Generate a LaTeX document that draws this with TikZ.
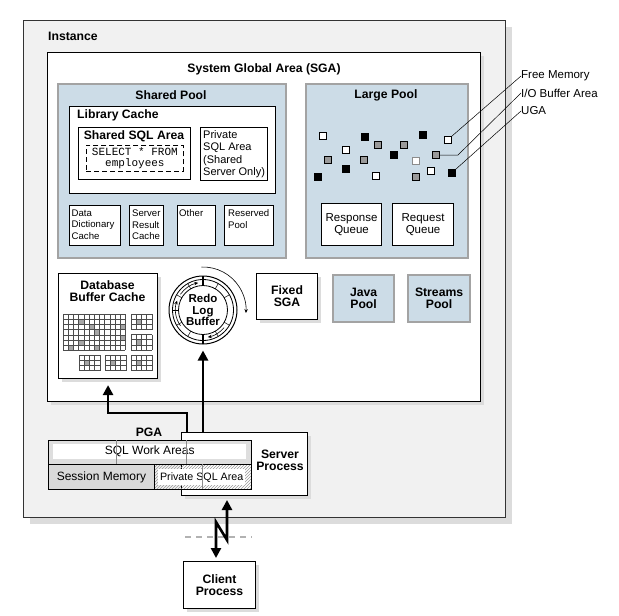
\documentclass[tikz,border=0pt]{standalone}
\usepackage{fontspec}
\setmainfont{Liberation Sans}
\setmonofont{Liberation Mono}
\usepackage{xcolor}
\usepackage{tikz}
\usetikzlibrary{positioning,arrows.meta,shadows,patterns}

\definecolor{instfill}{HTML}{F1F1F1}
\definecolor{poolfill}{HTML}{CCDCE7}
\definecolor{poolrim}{HTML}{A3A3A3}
\definecolor{shade}{HTML}{DCDCDC}

\begin{document}
\begin{tikzpicture}[x=1pt,y=-1pt]
\tikzstyle{area} = [rectangle, draw, line width=1.1pt, fill=white, inner sep=0pt, anchor=north west]
\tikzstyle{shd} = [drop shadow={shadow xshift=3pt, shadow yshift=-3pt, fill=shade, opacity=1}]
\tikzstyle{pool} = [area, draw=poolrim, line width=2.2pt, fill=poolfill]
\tikzstyle{title} = [font=\fontsize{12.2}{12}\selectfont\bfseries, align=center, inner sep=0pt]
\tikzstyle{plain} = [font=\fontsize{11.5}{12.6}\selectfont, align=center, inner sep=0pt]
\tikzstyle{small} = [font=\fontsize{9.6}{11.6}\selectfont, align=left, inner sep=0pt, anchor=north west]
\tikzstyle{arrow} = [line width=2.6pt, ->, >={Triangle[length=10pt,width=10pt]}]
\tikzstyle{ringarrow} = [line width=0.6pt, ->, >={Stealth[length=4pt,width=3.5pt]}]
\tikzstyle{callout} = [line width=0.5pt]
\tikzstyle{chip} = [rectangle, draw, line width=0.5pt, minimum size=7pt, inner sep=0pt]
\tikzstyle{cell} = [line width=0.45pt, black!70]

\useasboundingbox (0,0) rectangle (619,616);

% instance and SGA
\node (inst) [area, fill=instfill, draw=black!80, minimum width=482pt, minimum height=497pt,
  drop shadow={shadow xshift=6pt, shadow yshift=-6pt, fill=shade, opacity=1}] at (23,20) {};
\node (instlbl) [title, anchor=west] at (48,36) {Instance};
\node (sga) [area, shd, minimum width=433pt, minimum height=349pt] at (47,52) {};
\node (sgalbl) [title] at (264,69) {System Global Area (SGA)};

% shared pool
\node (shpool) [pool, minimum width=228pt, minimum height=174pt] at (57,83) {};
\node (shpoollbl) [title] at (171,95) {Shared Pool};
\node (libcache) [area, minimum width=206pt, minimum height=87pt] at (69,106) {};
\node (libcachelbl) [title, anchor=west] at (77,115) {Library Cache};
\node (shsql) [area, minimum width=112pt, minimum height=52pt] at (78,127) {};
\node (shsqllbl) [title] at (134,136) {Shared SQL Area};
\node (stmt) [area, line width=0.8pt, dash pattern=on 5pt off 3pt, minimum width=97pt, minimum height=26pt,
  font=\ttfamily\fontsize{11}{10.5}\selectfont, align=center] at (86,145) {SELECT * FROM\\employees};
\node (privsga) [area, minimum width=67pt, minimum height=53pt] at (200,127) {};
\node (privsgalbl) [small, font=\fontsize{11}{12.6}\selectfont] at (203,130) {Private\\SQL Area\\(Shared\\Server Only)};

\node (ddc) [area, minimum width=51pt, minimum height=40pt] at (69,205) {};
\node (ddclbl) [small] at (71.5,209.5) {Data\\Dictionary\\Cache};
\node (src) [area, minimum width=34pt, minimum height=40pt] at (129,205) {};
\node (srclbl) [small] at (132,209.5) {Server\\Result\\Cache};
\node (oth) [area, minimum width=38pt, minimum height=40pt] at (177,205) {};
\node (othlbl) [small] at (179,209.5) {Other};
\node (resv) [area, minimum width=49pt, minimum height=40pt] at (224,205) {};
\node (resvlbl) [small] at (228,209.5) {Reserved\\Pool};

% large pool
\node (lgpool) [pool, minimum width=162pt, minimum height=174pt] at (305,83) {};
\node (lgpoollbl) [title] at (386,95) {Large Pool};
\node (respq) [area, plain, minimum width=60pt, minimum height=42pt] at (321,203) {Response\\Queue};
\node (reqq) [area, plain, minimum width=61pt, minimum height=42pt] at (392,203) {Request\\Queue};

\foreach \x/\y [count=\i] in {323/136,346/150,376/176,448/140,431/171}
  \node (w\i) [chip, fill=white] at (\x,\y) {};
\node (wg) [chip, draw=black!45, fill=white] at (416,161) {};
\foreach \x/\y [count=\i] in {378/145,328/160,364/160,404/145,436/155,416/177}
  \node (g\i) [chip, fill=black!40] at (\x,\y) {};
\foreach \x/\y [count=\i] in {365/137,394/155,423/135,346/169,318/177,452/173}
  \node (b\i) [chip, fill=black] at (\x,\y) {};

\node (freelbl) [plain, anchor=west] at (521,76) {Free Memory};
\node (iolbl) [plain, anchor=west] at (521,93) {I/O Buffer Area};
\node (ugalbl) [plain, anchor=west] at (521,111) {UGA};
\draw [callout] (freelbl.west) -- (w4.north east);
\draw [callout] (iolbl.west) -- ++(-63,62) -- (g5.east);
\draw [callout] (ugalbl.west) -- (b6.north east);

% buffer cache
\node (bufcache) [area, shd, minimum width=99pt, minimum height=105pt] at (58,273) {};
\node (bufcachelbl) [title] at (107.5,291) {Database\\Buffer Cache};
\foreach \c/\r in {3/1,5/2,6/3,11/4,3/5,1/6,6/6,11/2}
  \fill [black!35] (63+\c*5.2,314+\r*5.2) rectangle ++(5.2,5.2);
\foreach \gx/\gy in {131/314,131/334.5,79/355,105/355,131/355}
  \fill [black!35] (\gx+5.2,\gy+5.2) rectangle ++(5.2,5.2);
\foreach \gx/\gy/\gc/\gr in {63/314/12/7,131/314/4/3,131/334.5/4/3,79/355/4/3,105/355/4/3,131/355/4/3} {
  \foreach \i in {0,...,\gc} \draw [cell] (\gx+\i*5.2,\gy) -- ++(0,\gr*5.2);
  \foreach \j in {0,...,\gr} \draw [cell] (\gx,\gy+\j*5.2) -- ++(\gc*5.2,0);
}

% redo log buffer
\node (redo) [circle, draw, line width=1pt, fill=white, minimum size=68pt, inner sep=0pt] at (203,310) {};
\begin{scope}[shift={(redo.center)}, yscale=-1]
  \draw [line width=0.8pt] (0,0) circle[radius=30.5];
  \draw [line width=0.8pt] (0,0) circle[radius=24.5];
  \foreach \a in {30,60,...,330} \draw [line width=0.5pt] (\a:24.5) -- (\a:30.5);
  \draw [line width=1.2pt] (90:24.5) -- (90:34);
  \draw [line width=1.2pt] (270:24.5) -- (270:34);
  \foreach \s/\e in {145/100,215/160,320/280}
    \draw [ringarrow] (\s:27.5) arc[start angle=\s, end angle=\e, radius=27.5];
  \draw [ringarrow] (92:43) arc[start angle=92, end angle=-4, radius=43];
\end{scope}
\node (redolbl) [title, font=\fontsize{11.5}{11.5}\selectfont\bfseries] at (redo.center) {Redo\\Log\\Buffer};

% other SGA parts
\node (fixed) [area, shd, title, minimum width=61pt, minimum height=46pt] at (256,273) {Fixed\\SGA};
\node (java) [pool, title, minimum width=61pt, minimum height=47pt] at (332,274) {Java\\Pool};
\node (streams) [pool, title, minimum width=62pt, minimum height=47pt] at (407,274) {Streams\\Pool};

% server process and PGA
\node (server) [area, shd, minimum width=126pt, minimum height=63pt] at (181,432) {};
\node (serverlbl) [title] at (280,460) {Server\\Process};
\node (pgalbl) [title] at (149,432) {PGA};
\node (work) [area, fill=black!13, line width=1pt, minimum width=203pt, minimum height=24pt] at (48,440) {};
\node (worktxt) [plain, fill=white, anchor=north west, minimum width=193pt, minimum height=15pt,
  font=\fontsize{12}{12}\selectfont] at (53,444) {SQL Work Areas};
\node (sess) [area, plain, fill=black!15, line width=1pt, minimum width=106pt, minimum height=25pt,
  font=\fontsize{12}{12}\selectfont] at (48,464) {Session Memory};
\node (privpga) [area, line width=1pt, pattern=north east lines, pattern color=black!40,
  minimum width=97pt, minimum height=25pt] at (154,464) {};
\node (privpgatxt) [plain, fill=white, anchor=north west, minimum width=87pt, minimum height=16pt,
  font=\fontsize{10.7}{11}\selectfont] at (158,469) {Private SQL Area};
\draw [black!45, line width=0.6pt] (116,440) -- (116,464);
\draw [black!45, line width=0.6pt] (186,440) -- (186,464);
\draw [black!45, line width=0.6pt] (202,464) -- (202,489);

\draw [arrow, shorten >=6pt] ([xshift=6pt]server.north west) -- ++(0,-19) -| (bufcache.south);
\draw [arrow, shorten >=6pt] (redo.south |- server.north) -- (redo.south);

% client link
\coordinate (dashl) at (185,537);
\coordinate (dashr) at (252,537);
\draw [black!30, line width=2.5pt, dash pattern=on 6pt off 5pt] (dashl) -- (dashr);
\node (client) [area, shd, title, minimum width=72pt, minimum height=47pt] at (183,561) {Client\\Process};
\coordinate (srvport) at (227,495);
\coordinate (cltport) at (216,561);
\draw [arrow, <->, shorten <=5pt, shorten >=3pt] (srvport) -- ++(0,45) -- ++(-11,-18) -- (cltport);

\end{tikzpicture}
\end{document}
